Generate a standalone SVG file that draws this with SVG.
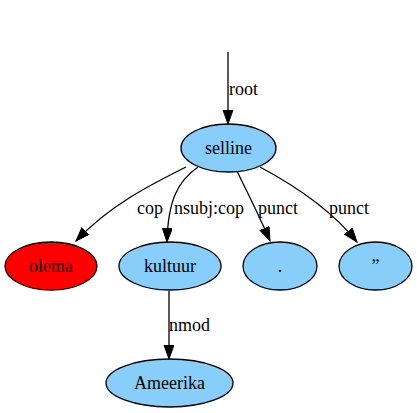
<svg xmlns="http://www.w3.org/2000/svg" width="417" height="413" viewBox="0 0 417 413">
<style>
.n ellipse{fill:#87cefa;stroke:#000;stroke-width:1.3}
.n ellipse.red{fill:#ff0000}
text{font-family:"Liberation Serif","Times New Roman",serif;font-size:18px;fill:#000}
.n text{text-anchor:middle}
.e path{fill:none;stroke:#000;stroke-width:1.3;marker-end:url(#arr)}
</style>
<defs>
<marker id="arr" markerUnits="userSpaceOnUse" markerWidth="16" markerHeight="12" refX="14" refY="5" orient="auto" viewBox="0 0 16 12">
<path d="M0,0 L14,5 L0,10 z" fill="#000" stroke="#000" stroke-width="1"/>
</marker>
</defs>
<rect width="417" height="413" fill="#fff"/>
<g id="edges" class="e">
<path d="M228,52 L228,124"/>
<text x="229" y="95">root</text>
<path d="M186,167 C150,185 110,205 76,241"/>
<text x="137" y="214">cop</text>
<path d="M198,167 C178,181 168,200 167,242"/>
<text x="174" y="214">nsubj:cop</text>
<path d="M237,171 C246,190 258,213 270,241"/>
<text x="258" y="214">punct</text>
<path d="M260,167 C290,183 330,208 357,242"/>
<text x="329" y="214">punct</text>
<path d="M169,291 L169,359"/>
<text x="169" y="331">nmod</text>
</g>
<g id="selline" class="n"><ellipse cx="228.5" cy="148" rx="47.5" ry="24"/><text x="228.5" y="154">selline</text></g>
<g id="olema" class="n"><ellipse class="red" cx="51" cy="266" rx="46" ry="24"/><text x="51" y="272">olema</text></g>
<g id="kultuur" class="n"><ellipse cx="170" cy="266" rx="51" ry="24"/><text x="170" y="272">kultuur</text></g>
<g id="period" class="n"><ellipse cx="280" cy="266" rx="37" ry="24"/><text x="280" y="272">.</text></g>
<g id="quote" class="n"><ellipse cx="375.5" cy="266" rx="36.5" ry="24"/><text x="375.5" y="272">”</text></g>
<g id="Ameerika" class="n"><ellipse cx="169.5" cy="383" rx="63.5" ry="24"/><text x="169.5" y="389">Ameerika</text></g>
</svg>
